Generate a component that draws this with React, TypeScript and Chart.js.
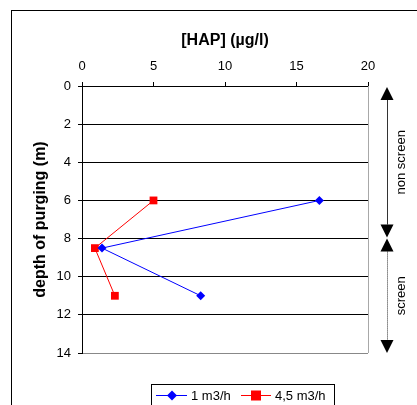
import React, { useEffect, useRef } from "react";
import { Chart, registerables } from "chart.js";

Chart.register(...registerables);

// ---- data ----
const seriesNames = ["1 m3/h", "4,5 m3/h"];
const seriesColors = ["#0000ff", "#ff0000"];
const depthBlue = [6, 8.5, 11];
const hapBlue = [16.6, 1.4, 8.3];
const depthRed = [6, 8.5, 11];
const hapRed = [5.0, 0.9, 2.3];
const xTitle = "[HAP] (µg/l)";
const yTitle = "depth of purging (m)";
const zoneLabels = ["non screen", "screen"];
const zoneBounds = [0, 8, 14];

const FONT = "'Liberation Sans', Arial, sans-serif";

const decorPlugin = {
  id: "decor",
  beforeDatasetsDraw(chart: any) {
    const { ctx, chartArea } = chart;
    ctx.save();
    ctx.lineWidth = 1;
    ctx.strokeStyle = "#a8a8a8";
    ctx.beginPath();
    ctx.moveTo(Math.round(chartArea.right) + 0.5, chartArea.top);
    ctx.lineTo(Math.round(chartArea.right) + 0.5, chartArea.bottom);
    ctx.stroke();
    ctx.restore();
  },
  afterDraw(chart: any) {
    const { ctx, chartArea, scales } = chart;
    const y = scales.y;
    ctx.save();
    // outer frame
    ctx.strokeStyle = "#000";
    ctx.lineWidth = 1;
    ctx.strokeRect(11.5, 10.5, 600, 600);

    // zone arrows
    const ax = Math.round(chartArea.right) + 19;
    const yTop = y.getPixelForValue(zoneBounds[0]);
    const yMid = y.getPixelForValue(zoneBounds[1]);
    const yBot = y.getPixelForValue(zoneBounds[2]);
    const head = 13;
    const hw = 6.5;
    const tri = (tipY: number, dir: number) => {
      ctx.beginPath();
      ctx.moveTo(ax, tipY);
      ctx.lineTo(ax - hw, tipY - dir * head);
      ctx.lineTo(ax + hw, tipY - dir * head);
      ctx.closePath();
      ctx.fillStyle = "#000";
      ctx.fill();
    };
    ctx.strokeStyle = "#333";
    ctx.beginPath();
    ctx.moveTo(ax + 0.5, yTop + head);
    ctx.lineTo(ax + 0.5, yMid - 1 - head);
    ctx.stroke();
    ctx.setLineDash([1, 1]);
    ctx.beginPath();
    ctx.moveTo(ax + 0.5, yMid + head);
    ctx.lineTo(ax + 0.5, yBot - head);
    ctx.stroke();
    ctx.setLineDash([]);
    tri(yTop + 1, -1);
    tri(yMid - 1, 1);
    tri(yMid, -1);
    tri(yBot, 1);

    ctx.fillStyle = "#000";
    ctx.font = `13px ${FONT}`;
    ctx.textAlign = "center";
    ctx.textBaseline = "middle";
    const tx = ax + 14;
    const c1 = (yTop + yMid) / 2;
    const c2 = (yMid + yBot) / 2;
    ctx.save();
    ctx.translate(tx, c1);
    ctx.rotate(-Math.PI / 2);
    ctx.fillText(zoneLabels[0], 0, 0);
    ctx.restore();
    ctx.save();
    ctx.translate(tx, c2);
    ctx.rotate(-Math.PI / 2);
    ctx.fillText(zoneLabels[1], 0, 0);
    ctx.restore();

    // legend
    const lx = 151.5, ly = 384.5, lw = 183;
    ctx.strokeStyle = "#000";
    ctx.strokeRect(lx, ly, lw, 60);
    const cy = 395.5;
    const items = [
      { x0: 156, x1: 187, mx: 172, tx: 191 },
      { x0: 241, x1: 271, mx: 256, tx: 275 },
    ];
    items.forEach((it, i) => {
      ctx.strokeStyle = seriesColors[i];
      ctx.lineWidth = 1;
      ctx.beginPath();
      ctx.moveTo(it.x0, cy);
      ctx.lineTo(it.x1, cy);
      ctx.stroke();
      ctx.fillStyle = seriesColors[i];
      if (i === 0) {
        ctx.beginPath();
        ctx.moveTo(it.mx, cy - 5);
        ctx.lineTo(it.mx + 5, cy);
        ctx.lineTo(it.mx, cy + 5);
        ctx.lineTo(it.mx - 5, cy);
        ctx.closePath();
        ctx.fill();
      } else {
        ctx.fillRect(it.mx - 5, cy - 5, 10, 10);
      }
      ctx.fillStyle = "#000";
      ctx.textAlign = "left";
      ctx.font = `13px ${FONT}`;
      ctx.fillText(seriesNames[i], it.tx, cy + 1);
    });
    ctx.restore();
  },
};

export default function App() {
  const ref = useRef<HTMLCanvasElement | null>(null);
  useEffect(() => {
    if (!ref.current) return;
    Chart.defaults.font.family = FONT;
    const chart = new Chart(ref.current, {
      type: "scatter",
      data: {
        datasets: [
          {
            label: seriesNames[0],
            data: hapBlue.map((v, i) => ({ x: v, y: depthBlue[i] })),
            showLine: true,
            borderColor: seriesColors[0],
            backgroundColor: seriesColors[0],
            borderWidth: 1,
            pointStyle: "rectRot",
            pointRadius: 4.5,
            pointBorderWidth: 0,
          },
          {
            label: seriesNames[1],
            data: hapRed.map((v, i) => ({ x: v, y: depthRed[i] })),
            showLine: true,
            borderColor: seriesColors[1],
            backgroundColor: seriesColors[1],
            borderWidth: 1,
            pointStyle: "rect",
            pointRadius: 5.5,
            pointBorderWidth: 0,
          },
        ],
      },
      options: {
        animation: false,
        responsive: false,
        devicePixelRatio: 1,
        layout: { padding: { left: 12, top: 10, right: 49, bottom: 52 } },
        plugins: { legend: { display: false }, tooltip: { enabled: false } },
        scales: {
          x: {
            type: "linear",
            position: "top",
            min: 0,
            max: 20,
            afterFit: (s: any) => {
              s.height = 76;
              s.paddingLeft = 0;
              s.paddingRight = 0;
            },
            ticks: { stepSize: 5, color: "#000", font: { size: 13 }, padding: 8, maxRotation: 0 },
            grid: { drawOnChartArea: false, drawTicks: true, tickLength: 4, tickColor: "#000" },
            border: { display: true, color: "#000", width: 1 },
            title: {
              display: true,
              text: xTitle,
              color: "#000",
              font: { size: 16, weight: "bold" },
              padding: { top: 21, bottom: 0 },
            },
          },
          y: {
            type: "linear",
            position: "left",
            reverse: true,
            min: 0,
            max: 14,
            afterFit: (s: any) => {
              s.width = 70;
              s.paddingTop = 0;
              s.paddingBottom = 0;
            },
            ticks: { stepSize: 2, color: "#000", font: { size: 13 }, padding: 7 },
            grid: {
              drawTicks: true,
              tickLength: 4,
              tickColor: "#000",
              color: (c: any) => (c.tick && c.tick.value === 14 ? "#888" : "#000"),
            },
            border: { display: true, color: "#000", width: 1 },
            title: {
              display: true,
              text: yTitle,
              color: "#000",
              font: { size: 16, weight: "bold" },
              padding: { top: 19, bottom: 0 },
            },
          },
        },
      } as any,
      plugins: [decorPlugin],
    });
    return () => chart.destroy();
  }, []);
  return (
    <div style={{ position: "absolute", left: 0, top: 0, width: 417, height: 405, background: "#fff" }}>
      <canvas ref={ref} width={417} height={405} style={{ width: 417, height: 405, display: "block" }} />
    </div>
  );
}
